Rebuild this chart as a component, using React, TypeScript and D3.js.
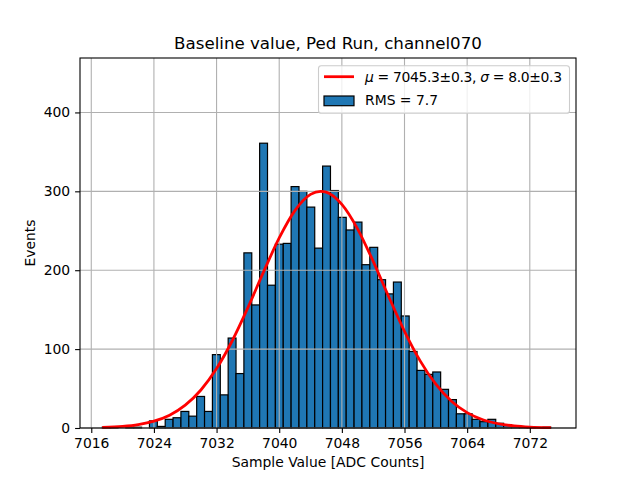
import { useEffect, useRef } from 'react';
import * as d3 from 'd3';

// histogram: 57 bins starting at binStart, each binWidth wide
const binStart = 7017.4;
const binWidth = 1.005;
const counts = [
  1, 1, 0, 1, 1, 0, 9, 2, 11, 13, 21, 15, 40, 21, 93, 42, 114, 69, 222, 156,
  361, 181, 233, 234, 306, 300, 280, 228, 332, 301, 267, 251, 261, 207, 229, 188,
  170, 185, 142, 97, 73, 68, 71, 49, 36, 18, 18, 11, 8, 11, 6, 4, 3, 1, 1, 0, 1,
];

// gaussian fit curve
const fitX = [
  7017.4, 7020, 7022, 7024, 7026, 7028, 7030, 7032, 7034, 7036, 7038, 7040, 7042, 7044,
  7045.3, 7046, 7048, 7050, 7052, 7054, 7056, 7058, 7060, 7062, 7064, 7066, 7068, 7070,
  7072, 7074.7,
];
const fitY = [
  0.7, 2.0, 4.3, 8.7, 16.3, 29.0, 48.2, 75.3, 110.6, 152.6, 197.9, 240.9, 275.5, 296.1,
  300, 298.9, 283.4, 252.5, 211.3, 166.1, 122.6, 85.1, 55.5, 34.0, 19.5, 10.5, 5.4, 2.6,
  1.1, 0.35,
];

const xTicks = [7016, 7024, 7032, 7040, 7048, 7056, 7064, 7072];
const yTicks = [0, 100, 200, 300, 400];

const title = 'Baseline value, Ped Run, channel070';
const xLabel = 'Sample Value [ADC Counts]';
const yLabel = 'Events';
const rmsLabel = 'RMS = 7.7';

export default function App() {
  const svgRef = useRef<SVGSVGElement>(null);

  useEffect(() => {
    if (!svgRef.current) return;
    const svg = d3.select(svgRef.current);
    svg.selectAll('*').remove();

    const width = 640;
    const height = 480;
    const margin = { top: 58, right: 64, bottom: 52, left: 80 };
    const innerWidth = width - margin.left - margin.right;
    const innerHeight = height - margin.top - margin.bottom;
    const font = 'DejaVu Sans, sans-serif';

    const x = d3.scaleLinear().domain([7014.56, 7077.9]).range([0, innerWidth]);
    const y = d3.scaleLinear().domain([0, 469]).range([innerHeight, 0]);

    svg.append('rect').attr('width', width).attr('height', height).attr('fill', '#fff');

    const g = svg.append('g').attr('transform', `translate(${margin.left},${margin.top})`);

    // bars
    const bins = counts.map((c, i) => ({
      x0: binStart + i * binWidth,
      x1: binStart + (i + 1) * binWidth,
      c,
    }));
    g.append('g')
      .selectAll('rect')
      .data(bins.filter(d => d.c > 0))
      .join('rect')
      .attr('x', d => x(d.x0))
      .attr('y', d => y(d.c))
      .attr('width', d => x(d.x1) - x(d.x0))
      .attr('height', d => y(0) - y(d.c))
      .attr('fill', '#1f77b4')
      .attr('stroke', '#000')
      .attr('stroke-width', 1.2);

    // grid (above bars, below line)
    const grid = g.append('g').attr('stroke', '#b0b0b0').attr('stroke-width', 1.1);
    grid.selectAll('line.vx')
      .data(xTicks)
      .join('line')
      .attr('class', 'vx')
      .attr('x1', d => x(d))
      .attr('x2', d => x(d))
      .attr('y1', 0)
      .attr('y2', innerHeight);
    grid.selectAll('line.hy')
      .data(yTicks)
      .join('line')
      .attr('class', 'hy')
      .attr('x1', 0)
      .attr('x2', innerWidth)
      .attr('y1', d => y(d))
      .attr('y2', d => y(d));

    // fit curve
    const line = d3.line<number>()
      .x((_, i) => x(fitX[i]))
      .y(d => y(d))
      .curve(d3.curveMonotoneX);
    g.append('path')
      .datum(fitY)
      .attr('fill', 'none')
      .attr('stroke', 'red')
      .attr('stroke-width', 2.78)
      .attr('d', line);

    // spines
    g.append('rect')
      .attr('width', innerWidth)
      .attr('height', innerHeight)
      .attr('fill', 'none')
      .attr('stroke', '#000')
      .attr('stroke-width', 1.1);

    // axes
    const xAxis = g.append('g')
      .attr('transform', `translate(0,${innerHeight})`)
      .call(d3.axisBottom(x).tickValues(xTicks).tickFormat(d3.format('d')).tickSize(4.9).tickPadding(4.9).tickSizeOuter(0));
    const yAxis = g.append('g')
      .call(d3.axisLeft(y).tickValues(yTicks).tickFormat(d3.format('d')).tickSize(4.9).tickPadding(4.9).tickSizeOuter(0));
    [xAxis, yAxis].forEach(a => {
      a.select('.domain').remove();
      a.selectAll('line').attr('stroke', '#000').attr('stroke-width', 1.1);
      a.selectAll('text').attr('fill', '#000').style('font-family', font).style('font-size', '13.9px');
    });

    // labels
    svg.append('text')
      .attr('x', margin.left + innerWidth / 2)
      .attr('y', 49)
      .attr('text-anchor', 'middle')
      .style('font-family', font)
      .style('font-size', '16.67px')
      .text(title);

    svg.append('text')
      .attr('x', margin.left + innerWidth / 2)
      .attr('y', 466.8)
      .attr('text-anchor', 'middle')
      .style('font-family', font)
      .style('font-size', '13.9px')
      .text(xLabel);

    svg.append('text')
      .attr('transform', `translate(35,${margin.top + innerHeight / 2}) rotate(-90)`)
      .attr('text-anchor', 'middle')
      .style('font-family', font)
      .style('font-size', '13.9px')
      .text(yLabel);

    // legend
    const legend = svg.append('g');
    legend.append('rect')
      .attr('x', 318.5)
      .attr('y', 65.7)
      .attr('width', 251)
      .attr('height', 47.6)
      .attr('rx', 2.8)
      .attr('fill', '#fff')
      .attr('fill-opacity', 0.8)
      .attr('stroke', '#cccccc')
      .attr('stroke-width', 1.1);
    legend.append('line')
      .attr('x1', 324)
      .attr('x2', 354)
      .attr('y1', 76.7)
      .attr('y2', 76.7)
      .attr('stroke', 'red')
      .attr('stroke-width', 2.78);
    legend.append('rect')
      .attr('x', 324)
      .attr('y', 96)
      .attr('width', 30)
      .attr('height', 9.7)
      .attr('fill', '#1f77b4')
      .attr('stroke', '#000')
      .attr('stroke-width', 1.2);

    const t1 = legend.append('text')
      .attr('x', 365)
      .attr('y', 81.7)
      .attr('textLength', 197)
      .attr('lengthAdjust', 'spacing')
      .style('font-family', font)
      .style('font-size', '13.9px');
    t1.append('tspan').style('font-style', 'italic').text('μ');
    t1.append('tspan').text(' = 7045.3±0.3, ');
    t1.append('tspan').style('font-style', 'italic').text('σ');
    t1.append('tspan').text(' = 8.0±0.3');

    legend.append('text')
      .attr('x', 365)
      .attr('y', 105)
      .style('font-family', font)
      .style('font-size', '13.9px')
      .text(rmsLabel);
  }, []);

  return (
    <svg
      ref={svgRef}
      width="640"
      height="480"
      style={{ position: 'absolute', left: 0, top: 0 }}
    ></svg>
  );
}
